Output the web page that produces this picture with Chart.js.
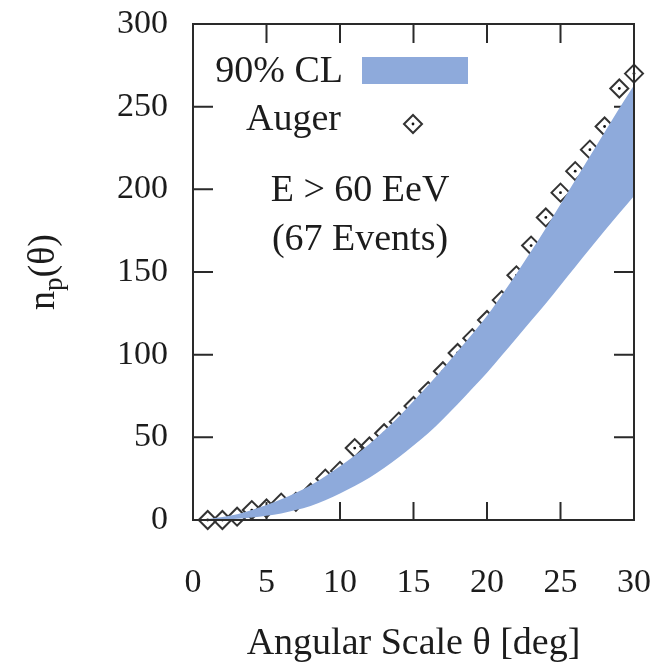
<!DOCTYPE html>
<html>
<head>
<meta charset="utf-8">
<script src="https://cdn.jsdelivr.net/npm/chart.js@4"></script>
<style>
  html, body { margin: 0; padding: 0; background: #fff; }
  #wrap { width: 665px; height: 668px; }
</style>
</head>
<body>
<div id="wrap"><canvas id="npChart" width="665" height="668"></canvas></div>
<script>
// band (90% CL) sampled at integer angles
const bandTheta = [0, 1, 2, 3, 4, 5, 6, 7, 8, 9, 10, 11, 12, 13, 14, 15, 16, 17, 18, 19, 20, 21, 22, 23, 24, 25, 26, 27, 28, 29, 30];
const bandLower = [0, 0, 0.3, 0.8, 1.5, 2.5, 4, 6, 8.5, 12, 16, 20.5, 25.5, 31.5, 38, 45, 52.5, 61, 70, 79.5, 89, 99.5, 110, 120.5, 131, 142, 153, 164, 175, 185.5, 196];
const bandUpper = [0, 0.6, 1.8, 3.5, 6, 9, 12.5, 16.5, 21, 26.5, 32.5, 39, 46, 54, 62.5, 72, 81.5, 91.5, 102, 112.5, 123.5, 136, 149, 162.5, 176.5, 191, 205.5, 220, 234.5, 249, 263];

// Auger pair counts
const augerTheta = [1, 2, 3, 4, 5, 6, 7, 8, 9, 10, 11, 12, 13, 14, 15, 16, 17, 18, 19, 20, 21, 22, 23, 24, 25, 26, 27, 28, 29, 30];
const augerCounts = [0, 0, 2, 6, 7, 10.5, 11, 16.5, 25, 29.7, 43.5, 44.5, 52.5, 59.5, 69, 78, 90, 101, 110, 121, 133, 148, 166, 183, 198, 211, 224, 238, 261, 270];

const xTicks = [0, 5, 10, 15, 20, 25, 30];
const yTicks = [0, 50, 100, 150, 200, 250, 300];

const serif = "'Liberation Serif', 'DejaVu Serif', serif";
const ink = '#1c1c1c';
const bandColor = '#8eaadb';

function diamond(ctx, x, y, r) {
  ctx.beginPath();
  ctx.moveTo(x - r, y);
  ctx.lineTo(x, y - r);
  ctx.lineTo(x + r, y);
  ctx.lineTo(x, y + r);
  ctx.closePath();
  ctx.stroke();
  ctx.beginPath();
  ctx.arc(x, y, 1.4, 0, Math.PI * 2);
  ctx.fill();
}

function noPad(s) {
  s.paddingLeft = 0;
  s.paddingRight = 0;
  s.paddingTop = 0;
  s.paddingBottom = 0;
}

const framePlugin = {
  id: 'frame',
  beforeDatasetsDraw(chart) {
    const { ctx, chartArea: a, scales } = chart;
    ctx.save();
    ctx.strokeStyle = '#2a2a2a';
    ctx.lineWidth = 2;
    ctx.beginPath();
    xTicks.slice(1, -1).forEach(v => {
      const px = scales.x.getPixelForValue(v);
      ctx.moveTo(px, a.bottom); ctx.lineTo(px, a.bottom - 18);
      ctx.moveTo(px, a.top); ctx.lineTo(px, a.top + 19);
    });
    yTicks.slice(1, -1).forEach(v => {
      const py = scales.y.getPixelForValue(v);
      ctx.moveTo(a.left, py); ctx.lineTo(a.left + 20, py);
      ctx.moveTo(a.right, py); ctx.lineTo(a.right - 20, py);
    });
    ctx.stroke();
    ctx.restore();
  },
  afterDatasetsDraw(chart) {
    const { ctx, chartArea: a } = chart;
    ctx.save();
    ctx.strokeStyle = '#2a2a2a';
    ctx.lineWidth = 2;
    ctx.strokeRect(a.left, a.top, a.right - a.left, a.bottom - a.top);

    // legend
    ctx.fillStyle = ink;
    ctx.font = '38px ' + serif;
    ctx.textAlign = 'right';
    ctx.textBaseline = 'alphabetic';
    ctx.fillText('90% CL', 343, 82);
    ctx.fillText('Auger', 341, 130);
    ctx.fillStyle = bandColor;
    ctx.fillRect(362, 57, 106, 27);
    ctx.strokeStyle = '#333';
    ctx.fillStyle = '#111';
    ctx.lineWidth = 2;
    diamond(ctx, 413, 124, 9);

    // annotation
    ctx.fillStyle = ink;
    ctx.textAlign = 'center';
    ctx.fillText('E > 60 EeV', 360, 201);
    ctx.fillText('(67 Events)', 360, 250);

    // y axis title n_p(θ)
    ctx.translate(54, 272);
    ctx.rotate(-Math.PI / 2);
    ctx.textAlign = 'left';
    const big = '38px ' + serif, small = '27px ' + serif;
    ctx.font = big; const wn = ctx.measureText('n').width;
    ctx.font = small; const wp = ctx.measureText('p').width;
    ctx.font = big; const wt = ctx.measureText('(θ)').width;
    let x0 = -(wn + wp + wt) / 2;
    ctx.font = big; ctx.fillText('n', x0, 0);
    ctx.font = small; ctx.fillText('p', x0 + wn, 8);
    ctx.font = big; ctx.fillText('(θ)', x0 + wn + wp, 0);
    ctx.restore();
  }
};

const ctx = document.getElementById('npChart').getContext('2d');

new Chart(ctx, {
  type: 'line',
  data: {
    datasets: [
      {
        label: 'lower',
        data: bandTheta.map((t, i) => ({ x: t, y: bandLower[i] })),
        borderWidth: 0,
        pointRadius: 0,
        fill: false,
        cubicInterpolationMode: 'monotone'
      },
      {
        label: '90% CL',
        data: bandTheta.map((t, i) => ({ x: t, y: bandUpper[i] })),
        borderWidth: 0,
        pointRadius: 0,
        backgroundColor: bandColor,
        fill: '-1',
        cubicInterpolationMode: 'monotone'
      },
      {
        label: 'Auger',
        data: augerTheta.map((t, i) => ({ x: t, y: augerCounts[i] })),
        showLine: false,
        pointStyle: 'rectRot',
        pointRadius: 9,
        pointBorderColor: '#333',
        pointBorderWidth: 2,
        pointBackgroundColor: 'rgba(0,0,0,0)',
        clip: false
      },
      {
        label: 'Auger centre',
        data: augerTheta.map((t, i) => ({ x: t, y: augerCounts[i] })),
        showLine: false,
        pointStyle: 'circle',
        pointRadius: 1.4,
        pointBorderWidth: 0,
        pointBackgroundColor: '#111',
        clip: false
      }
    ]
  },
  options: {
    responsive: false,
    animation: false,
    events: [],
    layout: { padding: { left: 0, top: 24, right: 31, bottom: 0 } },
    plugins: {
      legend: { display: false },
      tooltip: { enabled: false }
    },
    scales: {
      x: {
        type: 'linear',
        min: 0,
        max: 30,
        afterBuildTicks: s => { s.ticks = xTicks.map(v => ({ value: v })); },
        afterFit: s => { s.height = 148; noPad(s); },
        grid: { display: false },
        border: { display: false },
        ticks: {
          color: ink,
          padding: 35,
          maxRotation: 0,
          font: { family: serif, size: 34 }
        },
        title: {
          display: true,
          text: 'Angular Scale θ [deg]',
          color: ink,
          font: { family: serif, size: 38 },
          padding: { top: 0, bottom: 1 }
        }
      },
      y: {
        min: 0,
        max: 300,
        afterBuildTicks: s => { s.ticks = yTicks.map(v => ({ value: v })); },
        afterFit: s => { s.width = 193; noPad(s); },
        grid: { display: false },
        border: { display: false },
        ticks: {
          color: ink,
          padding: 17,
          font: { family: serif, size: 34 }
        }
      }
    }
  },
  plugins: [framePlugin]
});
</script>
</body>
</html>
